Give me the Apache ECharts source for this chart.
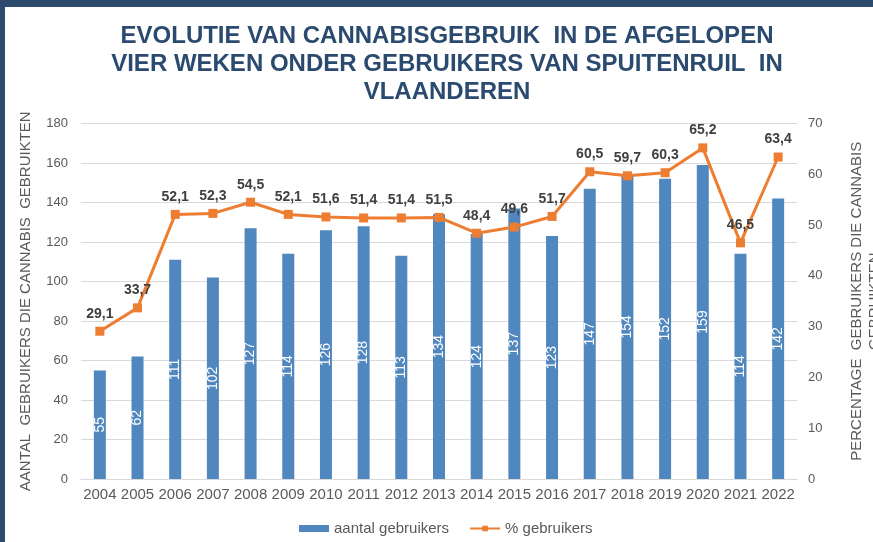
<!DOCTYPE html>
<html>
<head>
<meta charset="utf-8">
<script src="https://cdn.jsdelivr.net/npm/echarts@6/dist/echarts.min.js"></script>
<style>
html,body{margin:0;padding:0;background:#fff;}
#chart{width:873px;height:542px;}
</style>
</head>
<body>
<div id="chart"></div>
<script>
const years = ['2004','2005','2006','2007','2008','2009','2010','2011','2012','2013','2014','2015','2016','2017','2018','2019','2020','2021','2022'];
const aantalGebruikers = [55, 62, 111, 102, 127, 114, 126, 128, 113, 134, 124, 137, 123, 147, 154, 152, 159, 114, 142];
const pctGebruikers = [29.1, 33.7, 52.1, 52.3, 54.5, 52.1, 51.6, 51.4, 51.4, 51.5, 48.4, 49.6, 51.7, 60.5, 59.7, 60.3, 65.2, 46.5, 63.4];

const chart = echarts.init(document.getElementById('chart'), null, {renderer: 'canvas'});
const FONT = "'Liberation Sans', Arial, sans-serif";
chart.setOption({
  animation: false,
  textStyle: {fontFamily: FONT},
  title: {
    text: 'EVOLUTIE VAN CANNABISGEBRUIK  IN DE AFGELOPEN\nVIER WEKEN ONDER GEBRUIKERS VAN SPUITENRUIL  IN\nVLAANDEREN',
    left: 442,
    textAlign: 'center',
    top: 17,
    textStyle: {fontFamily: FONT, fontSize: 24, fontWeight: 'bold', color: '#2B4A6F', lineHeight: 28}
  },
  graphic: [
    {type: 'rect', shape: {x: 0, y: 0, width: 873, height: 7}, style: {fill: '#2B4A6C'}, z: 100},
    {type: 'rect', shape: {x: 0, y: 0, width: 5, height: 542}, style: {fill: '#2B4A6C'}, z: 100}
  ],
  legend: {
    bottom: 1,
    left: 294,
    itemGap: 20,
    itemWidth: 30,
    itemHeight: 7,
    textStyle: {fontFamily: FONT, fontSize: 15, color: '#595959'},
    data: [
      {name: 'aantal gebruikers', icon: 'rect'},
      {name: '% gebruikers'}
    ]
  },
  grid: {left: 81, right: 76, top: 123.5, bottom: 63, outerBoundsMode: 'none', containLabel: false},
  xAxis: {
    type: 'category',
    data: years,
    axisTick: {show: false},
    axisLine: {lineStyle: {color: '#D9D9D9', width: 1}},
    axisLabel: {fontFamily: FONT, fontSize: 15, color: '#595959', margin: 8, interval: 0}
  },
  yAxis: [
    {
      type: 'value', min: 0, max: 180, interval: 20,
      name: 'AANTAL  GEBRUIKERS DIE CANNABIS  GEBRUIKTEN',
      nameLocation: 'middle', nameRotate: 90, nameGap: 48,
      nameTextStyle: {fontFamily: FONT, fontSize: 15, color: '#595959'},
      axisLabel: {fontFamily: FONT, fontSize: 13, color: '#595959', margin: 13},
      splitLine: {lineStyle: {color: '#D9D9D9', width: 1}},
      axisLine: {show: false}, axisTick: {show: false}
    },
    {
      type: 'value', min: 0, max: 70, interval: 10,
      name: 'PERCENTAGE  GEBRUIKERS DIE CANNABIS\nGEBRUIKTEN',
      nameLocation: 'middle', nameRotate: 90, nameGap: 51,
      nameTextStyle: {fontFamily: FONT, fontSize: 15, color: '#595959', lineHeight: 18},
      axisLabel: {fontFamily: FONT, fontSize: 13, color: '#595959', margin: 11},
      splitLine: {show: false},
      axisLine: {show: false}, axisTick: {show: false}
    }
  ],
  series: [
    {
      name: 'aantal gebruikers',
      type: 'bar',
      data: aantalGebruikers,
      barWidth: 12,
      itemStyle: {color: '#4F87BE'},
      label: {
        show: true, position: 'inside', rotate: 90,
        fontFamily: FONT, fontSize: 14, color: '#FFFFFF'
      },
      z: 2
    },
    {
      name: '% gebruikers',
      type: 'line',
      yAxisIndex: 1,
      data: pctGebruikers,
      symbol: 'rect',
      symbolSize: 9,
      lineStyle: {color: '#ED7D31', width: 3},
      itemStyle: {color: '#ED7D31'},
      label: {
        show: true, position: 'top', distance: 6,
        fontFamily: FONT, fontSize: 14, fontWeight: 'bold', color: '#404040',
        formatter: p => p.value.toFixed(1).replace('.', ',')
      },
      z: 3
    }
  ]
});
</script>
</body>
</html>
